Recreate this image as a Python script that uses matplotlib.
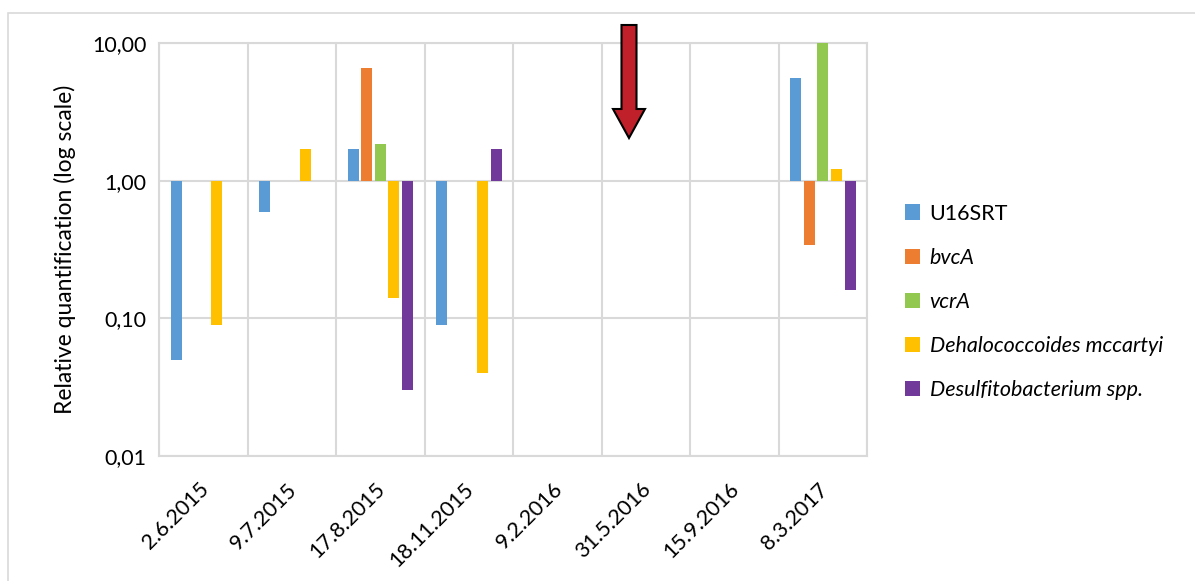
import numpy as np
import matplotlib.pyplot as plt
from matplotlib.patches import FancyArrow, Rectangle
from matplotlib.ticker import FixedLocator, FuncFormatter
from matplotlib.transforms import ScaledTranslation

plt.rcParams['font.family'] = ['Lato', 'DejaVu Sans']

dates = ['2.6.2015', '9.7.2015', '17.8.2015', '18.11.2015',
         '9.2.2016', '31.5.2016', '15.9.2016', '8.3.2017']
series = ['U16SRT', 'bvcA', 'vcrA', 'Dehalococcoides mccartyi', 'Desulfitobacterium spp.']
colors = ['#5B9BD5', '#ED7D31', '#92C84F', '#FFC000', '#70399A']

nan = np.nan
u16srt = [0.05, 0.59, 1.7, 0.09, nan, nan, nan, 5.6]
bvca = [nan, nan, 6.6, nan, nan, nan, nan, 0.34]
vcra = [nan, nan, 1.85, nan, nan, nan, nan, 10.0]
dehalo = [0.09, 1.7, 0.14, 0.04, nan, nan, nan, 1.22]
desulf = [nan, nan, 0.03, 1.7, nan, nan, nan, 0.16]
values = [u16srt, bvca, vcra, dehalo, desulf]

fig = plt.figure(figsize=(11.95, 5.81), dpi=100)
ax = fig.add_axes([0.1331, 0.2151, 0.5925, 0.7108])

grid = '#D9D9D9'
fs = 15.5
x = np.arange(len(dates)) + 0.5
slot = 0.154
bw = 0.124
for j, (name, vals) in enumerate(zip(series, values)):
    v = np.array(vals, dtype=float)
    ok = ~np.isnan(v)
    # bars start at 1 so values below 1 hang down on the log axis
    ax.bar(x[ok] + (j - 2) * slot, v[ok] - 1, bottom=1, width=bw,
           color=colors[j], label=name, zorder=3)

ax.set_yscale('log')
ax.set_ylim(0.01, 10)
ax.set_xlim(0, len(dates))
ax.yaxis.set_major_locator(FixedLocator([0.01, 0.1, 1, 10]))
ax.yaxis.set_minor_locator(FixedLocator([]))
ax.yaxis.set_major_formatter(FuncFormatter(lambda v, p: f'{v:.2f}'.replace('.', ',')))
ax.set_xticks(x)
ax.set_xticklabels(dates, rotation=45, ha='right', va='top', rotation_mode='anchor')
ax.set_xticks(np.arange(len(dates) + 1), minor=True)
ax.tick_params(axis='both', which='both', length=0, labelsize=fs, colors='#000000')
ax.tick_params(axis='x', pad=8)
ax.tick_params(axis='y', pad=9)
shift = ScaledTranslation(-0.05, -0.12, fig.dpi_scale_trans)
for lab in ax.get_xticklabels():
    lab.set_transform(lab.get_transform() + shift)
ax.grid(True, which='major', axis='y', color=grid, lw=1.5, zorder=0)
ax.grid(True, which='minor', axis='x', color=grid, lw=1.5, zorder=0)
for s in ax.spines.values():
    s.set_color(grid)
    s.set_linewidth(1.5)
ax.set_ylabel('Relative quantification (log scale)', fontsize=16.5, labelpad=12)

leg = fig.legend(loc='upper left', bbox_to_anchor=(0.741, 0.683), frameon=False,
                 fontsize=fs, handlelength=0.7, handleheight=0.7,
                 handletextpad=0.45, labelspacing=1.12)
for t in leg.get_texts()[1:]:
    t.set_style('italic')

# sampling gap marker
arr = FancyArrow(6.29, 5.56, 0, -1.13, width=0.15, head_width=0.32,
                 head_length=0.29, length_includes_head=True,
                 facecolor='#C0202A', edgecolor='black', lw=1.5,
                 transform=fig.dpi_scale_trans)
fig.add_artist(arr)

fig.add_artist(Rectangle((8 / 1195, -0.1), 1.2, (581 - 13) / 581 + 0.1,
                         transform=fig.transFigure, fill=False,
                         edgecolor=grid, lw=1.2))

fig.savefig('out.png', dpi=100)
